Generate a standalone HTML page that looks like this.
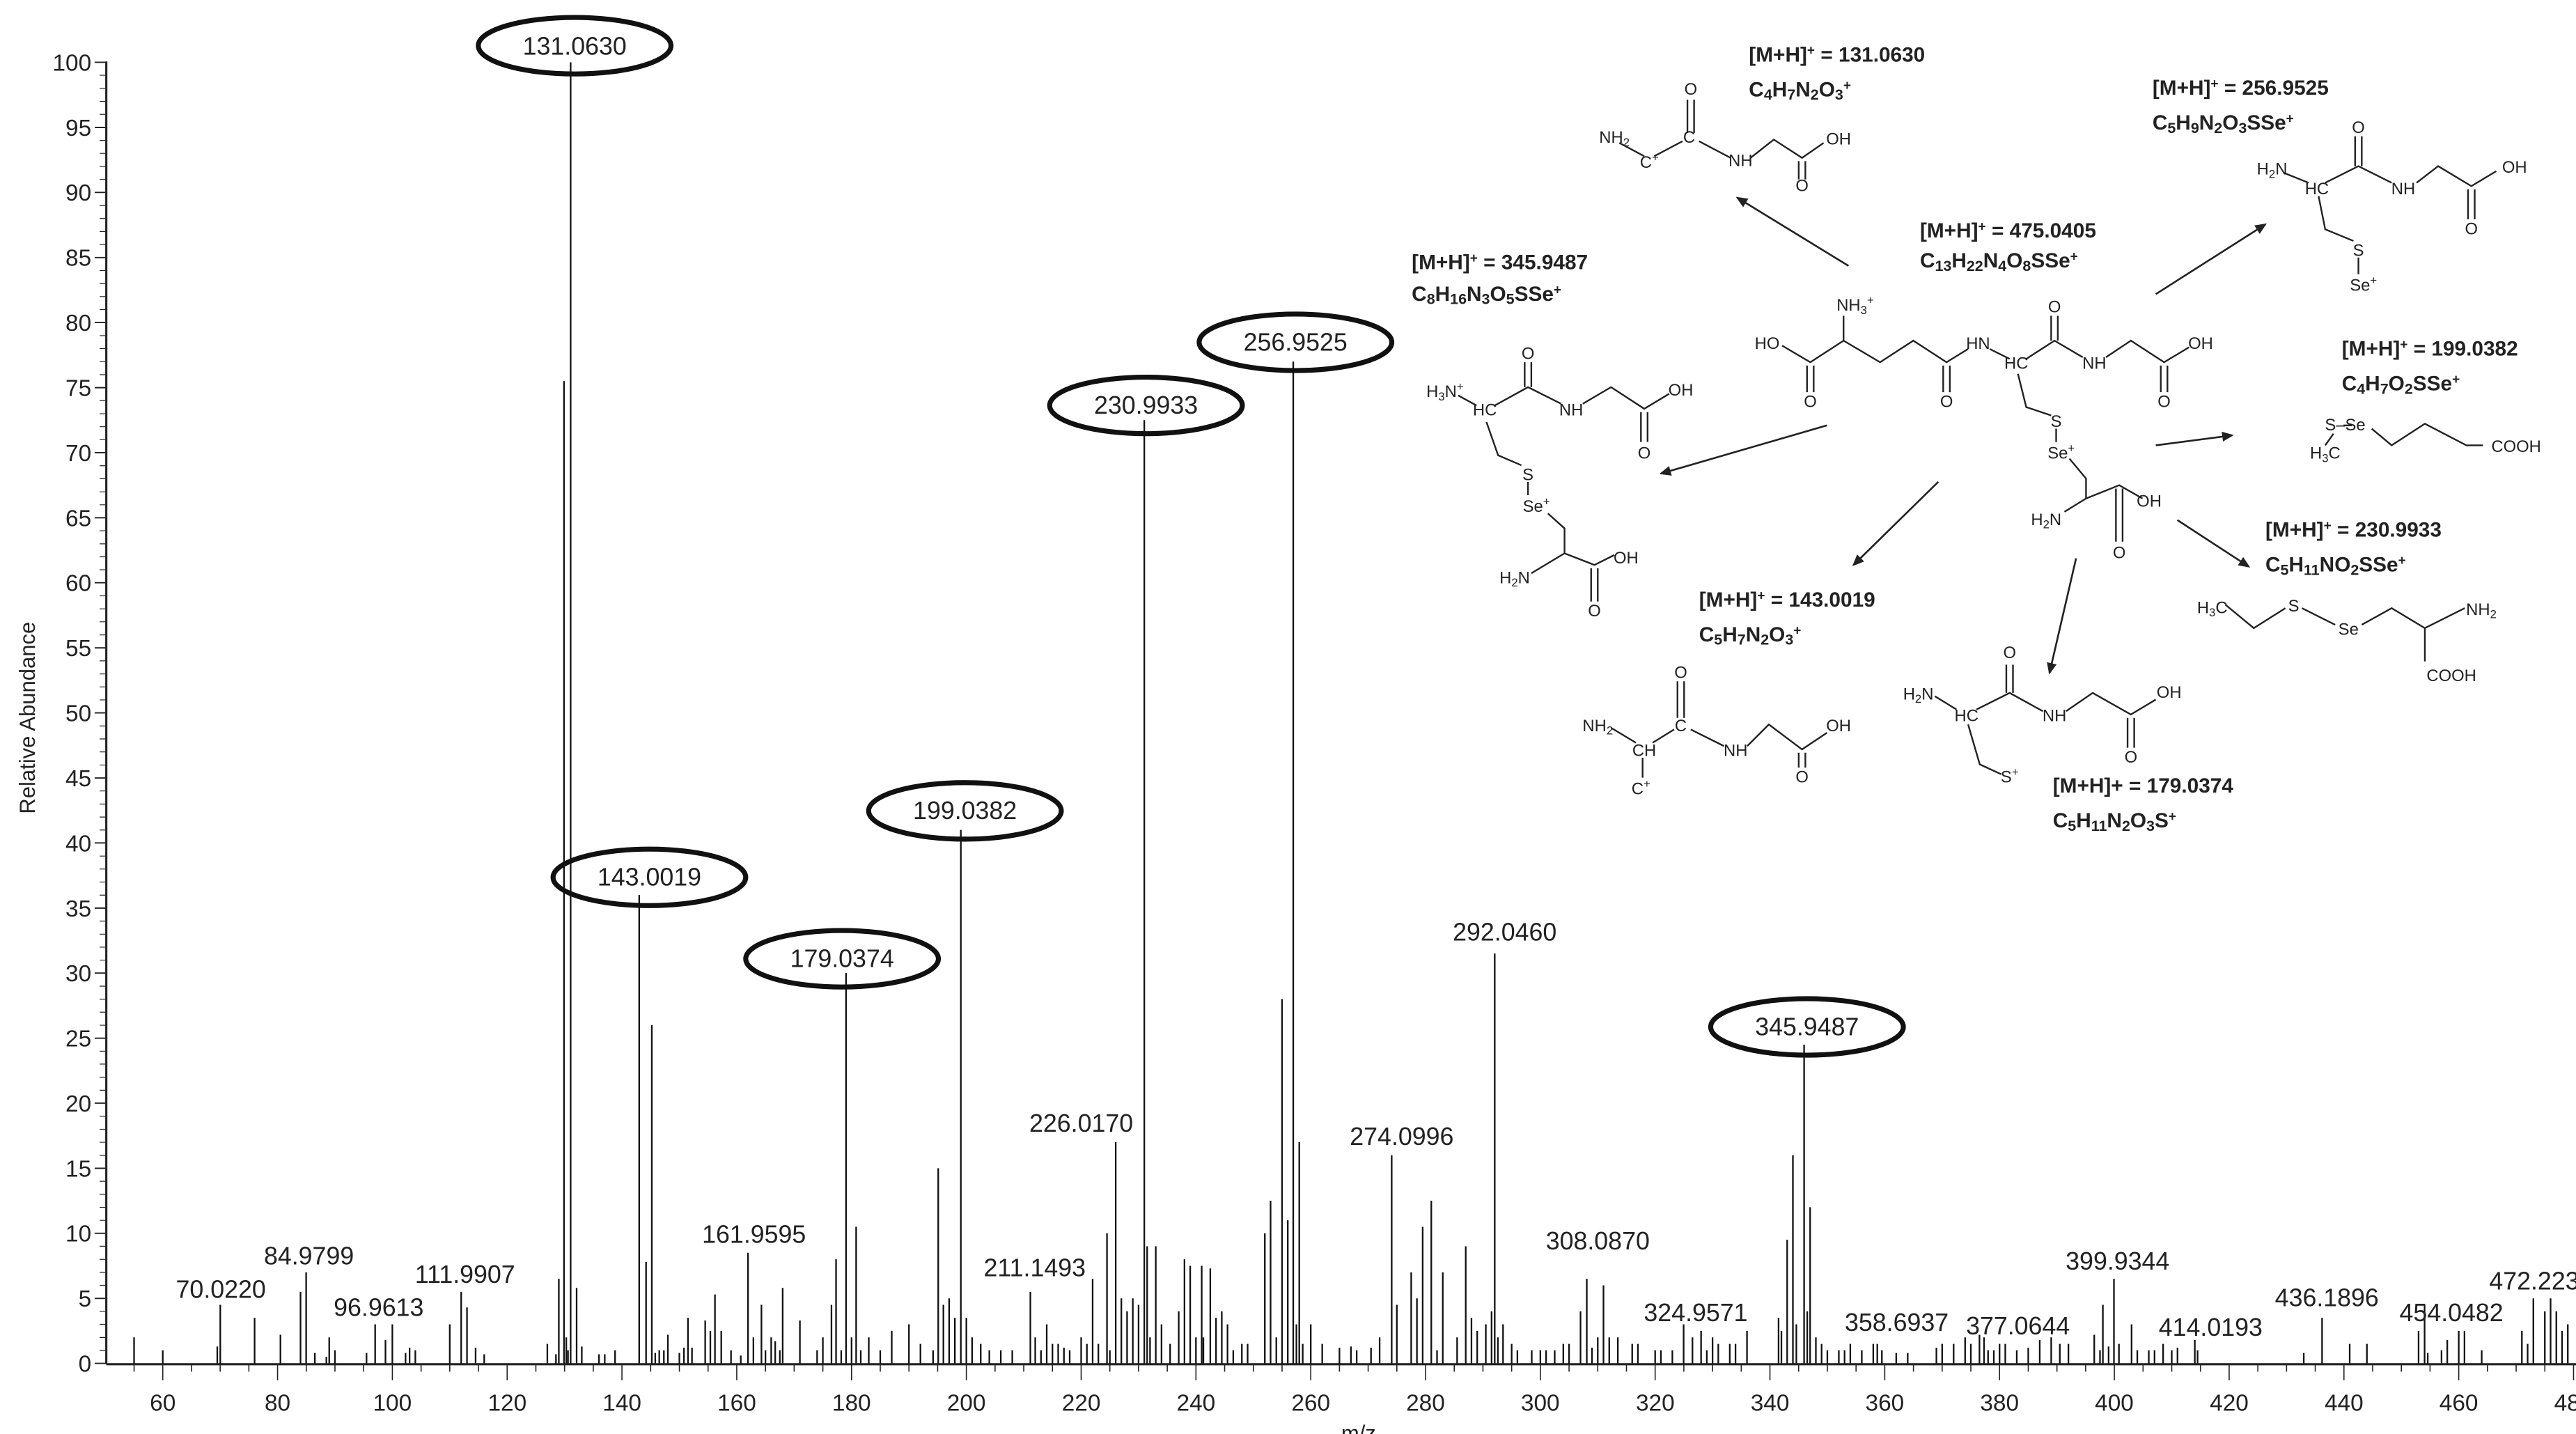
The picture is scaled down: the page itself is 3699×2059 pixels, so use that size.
<!DOCTYPE html>
<html><head><meta charset="utf-8"><style>
html,body{margin:0;padding:0;background:#fff;}
svg{display:block;}
.ax{font-family:"Liberation Sans",sans-serif;font-size:14px;fill:#222;}
.pl{font-family:"Liberation Sans",sans-serif;font-size:15px;fill:#222;}
.el{font-family:"Liberation Sans",sans-serif;font-size:15px;fill:#222;text-anchor:middle;}
.f{font-family:"Liberation Sans Narrow","Liberation Sans",sans-serif;font-size:12.5px;font-weight:bold;fill:#222;}
.a{font-family:"Liberation Sans Narrow","Liberation Sans",sans-serif;font-size:10px;fill:#222;text-anchor:middle;}
.b{stroke:#222;stroke-width:1;fill:none;}
</style></head><body>
<svg width="3699" height="2059" viewBox="0 0 1551 863" preserveAspectRatio="none" xmlns="http://www.w3.org/2000/svg">
<rect width="1551" height="863" fill="#fff"/>
<line x1="64" y1="37" x2="64" y2="821" stroke="#222" stroke-width="1.3"/>
<line x1="64" y1="821" x2="1551" y2="821" stroke="#222" stroke-width="1.3"/>
<g stroke="#222" stroke-width="0.8">
<path d="M57 37.5H64M57 76.7H64M57 115.8H64M57 155H64M57 194.1H64M57 233.3H64M57 272.4H64M57 311.6H64M57 350.7H64M57 389.9H64M57 429H64M57 468.2H64M57 507.3H64M57 546.5H64M57 585.6H64M57 624.8H64M57 663.9H64M57 703.1H64M57 742.2H64M57 781.4H64M57 820.5H64"/>
</g>
<g stroke="#222" stroke-width="0.5">
<path d="M60 45.3H64M60 53.2H64M60 61H64M60 68.8H64M60 84.5H64M60 92.3H64M60 100.2H64M60 108H64M60 123.7H64M60 131.5H64M60 139.3H64M60 147.2H64M60 162.8H64M60 170.7H64M60 178.5H64M60 186.3H64M60 202H64M60 209.8H64M60 217.6H64M60 225.5H64M60 241.1H64M60 249H64M60 256.8H64M60 264.6H64M60 280.3H64M60 288.1H64M60 296H64M60 303.8H64M60 319.4H64M60 327.3H64M60 335.1H64M60 342.9H64M60 358.6H64M60 366.4H64M60 374.2H64M60 382.1H64M60 397.7H64M60 405.6H64M60 413.4H64M60 421.2H64M60 436.9H64M60 444.7H64M60 452.5H64M60 460.4H64M60 476H64M60 483.9H64M60 491.7H64M60 499.5H64M60 515.2H64M60 523H64M60 530.8H64M60 538.7H64M60 554.3H64M60 562.2H64M60 570H64M60 577.8H64M60 593.5H64M60 601.3H64M60 609.1H64M60 617H64M60 632.6H64M60 640.4H64M60 648.3H64M60 656.1H64M60 671.8H64M60 679.6H64M60 687.4H64M60 695.3H64M60 710.9H64M60 718.7H64M60 726.6H64M60 734.4H64M60 750H64M60 757.9H64M60 765.7H64M60 773.5H64M60 789.2H64M60 797H64M60 804.9H64M60 812.7H64"/>
</g>
<g class="ax" text-anchor="end">
<text x="55" y="42.5">100</text><text x="55" y="81.7">95</text><text x="55" y="120.8">90</text><text x="55" y="160">85</text><text x="55" y="199.1">80</text><text x="55" y="238.3">75</text><text x="55" y="277.4">70</text><text x="55" y="316.6">65</text><text x="55" y="355.7">60</text><text x="55" y="394.9">55</text><text x="55" y="434">50</text><text x="55" y="473.2">45</text><text x="55" y="512.3">40</text><text x="55" y="551.5">35</text><text x="55" y="590.6">30</text><text x="55" y="629.8">25</text><text x="55" y="668.9">20</text><text x="55" y="708.1">15</text><text x="55" y="747.2">10</text><text x="55" y="786.4">5</text><text x="55" y="825.5">0</text>
</g>
<text transform="translate(21 432) rotate(-90)" text-anchor="middle" font-family="Liberation Sans,sans-serif" font-size="13" fill="#222">Relative Abundance</text>
<g transform="translate(-109.36 820.5) scale(3.456 -7.83)">
<path vector-effect="non-scaling-stroke" stroke="#222" stroke-width="1.6" fill="none" d="M55 0V-0.64M65 0V-0.64M70 0V-0.64M75 0V-0.64M85 0V-0.64M90 0V-0.64M95 0V-0.64M105 0V-0.64M110 0V-0.64M115 0V-0.64M125 0V-0.64M130 0V-0.64M135 0V-0.64M145 0V-0.64M150 0V-0.64M155 0V-0.64M165 0V-0.64M170 0V-0.64M175 0V-0.64M185 0V-0.64M190 0V-0.64M195 0V-0.64M205 0V-0.64M210 0V-0.64M215 0V-0.64M225 0V-0.64M230 0V-0.64M235 0V-0.64M245 0V-0.64M250 0V-0.64M255 0V-0.64M265 0V-0.64M270 0V-0.64M275 0V-0.64M285 0V-0.64M290 0V-0.64M295 0V-0.64M305 0V-0.64M310 0V-0.64M315 0V-0.64M325 0V-0.64M330 0V-0.64M335 0V-0.64M345 0V-0.64M350 0V-0.64M355 0V-0.64M365 0V-0.64M370 0V-0.64M375 0V-0.64M385 0V-0.64M390 0V-0.64M395 0V-0.64M405 0V-0.64M410 0V-0.64M415 0V-0.64M425 0V-0.64M430 0V-0.64M435 0V-0.64M445 0V-0.64M450 0V-0.64M455 0V-0.64M465 0V-0.64M470 0V-0.64M475 0V-0.64
M60 0V-1.3M80 0V-1.3M100 0V-1.3M120 0V-1.3M140 0V-1.3M160 0V-1.3M180 0V-1.3M200 0V-1.3M220 0V-1.3M240 0V-1.3M260 0V-1.3M280 0V-1.3M300 0V-1.3M320 0V-1.3M340 0V-1.3M360 0V-1.3M380 0V-1.3M400 0V-1.3M420 0V-1.3M440 0V-1.3M460 0V-1.3M480 0V-1.3"/>
</g>
<g class="ax" text-anchor="middle">
<text x="98" y="849">60</text><text x="167.1" y="849">80</text><text x="236.2" y="849">100</text><text x="305.4" y="849">120</text><text x="374.5" y="849">140</text><text x="443.6" y="849">160</text><text x="512.7" y="849">180</text><text x="581.8" y="849">200</text><text x="651" y="849">220</text><text x="720.1" y="849">240</text><text x="789.2" y="849">260</text><text x="858.3" y="849">280</text><text x="927.4" y="849">300</text><text x="996.6" y="849">320</text><text x="1065.7" y="849">340</text><text x="1134.8" y="849">360</text><text x="1203.9" y="849">380</text><text x="1273" y="849">400</text><text x="1342.2" y="849">420</text><text x="1411.3" y="849">440</text><text x="1480.4" y="849">460</text><text x="1549.5" y="849">480</text>
</g>
<text x="818" y="867" text-anchor="middle" font-family="Liberation Sans,sans-serif" font-size="13" fill="#222">m/z</text>
<g transform="translate(-109.36 820.5) scale(3.456 -7.83)">
<path vector-effect="non-scaling-stroke" stroke="#111" stroke-width="2.3" fill="none" d="
M55 0V2M60 0V1M69.5 0V1.3M70.02 0V4.5M76 0V3.5M80.5 0V2.2M84 0V5.5M84.98 0V7M86.5 0V0.8M88.5 0V0.5M89 0V2M90 0V1M95.5 0V0.8M97 0V3M98.8 0V1.8M100 0V3M102.3 0V0.8M103 0V1.2M104 0V1M110 0V3M111.99 0V5.5M113 0V4.3M114.5 0V1.2M116 0V0.7M127 0V1.5M128.5 0V0.7M129 0V6.5M129.9 0V75.5M130.3 0V2M130.6 0V1M131.06 0V100M132.1 0V5.8M133 0V1.3M136 0V0.7M137 0V0.7M138.8 0V1
M143 0V36M144.2 0V7.8M145.2 0V26M145.8 0V0.8M146.5 0V1M147.3 0V1M148 0V2.2M150 0V0.8M150.8 0V1.2M151.5 0V3.5M152.2 0V1.2M154.5 0V3.3M155.4 0V2.5M156.2 0V5.3M157.3 0V2.5M159 0V1M160.7 0V0.6M161.96 0V8.5M162.9 0V2M164.3 0V4.5M165 0V1M166 0V2M166.7 0V1.7M167.5 0V1M168 0V5.8M171 0V3.3M174 0V1M175 0V2M176.5 0V4.5M177.3 0V8M178.2 0V1M179.04 0V30M180 0V2M180.8 0V10.5M181.6 0V1M183 0V2M185 0V1M187 0V2.5M190 0V3M192 0V1.5M194.2 0V1M195.1 0V15M196 0V4.5M197 0V5M198 0V3.5M199.04 0V41M200 0V3.5M201 0V2M202.5 0V1.5M204 0V1M206 0V1M208 0V1
M211.15 0V5.5M212 0V2M213 0V1M214 0V3M215 0V1.5M216 0V1.5M217 0V1.2M218 0V1M220 0V2M221 0V1.5M222 0V6.5M223 0V1.5M224.5 0V10M225 0V1M226.02 0V17M227 0V5M228 0V4M229 0V5M230 0V4.5M231 0V72.5M231.5 0V9M232 0V2M233 0V9M234 0V3M235.5 0V1.5M237 0V4M238 0V8M239 0V7.5M240 0V2M241 0V7.5M241.3 0V2M242.5 0V7.3M243.5 0V3.5M244.5 0V4M245.5 0V3M246.5 0V1M248 0V1.5M249 0V1.5M252 0V10M253 0V12.5M254 0V2M255 0V28M256 0V11M256.95 0V77M257.5 0V3M258 0V17M258.6 0V1.5M260 0V3M262 0V1.5M265 0V1.2M267 0V1.3M268 0V1M270.5 0V1.2M272 0V2
M274.1 0V16M275 0V4.5M277.5 0V7M278.5 0V5M279.5 0V10.5M281 0V12.5M282 0V1M283 0V7M285.5 0V2M287 0V9M288 0V3.5M289 0V2.5M290.5 0V3M291.5 0V4M292.05 0V31.5M292.6 0V2M293.5 0V3M295 0V1.5M296 0V1M298.5 0V1M300 0V1M301 0V1M302.5 0V1M304 0V1.5M305 0V1.5M307 0V4M308.09 0V6.5M309 0V1.2M310 0V2M311 0V6M312 0V2M313.5 0V2M316 0V1.5M317 0V1.5M320 0V1M321 0V1M323 0V1M324.96 0V3M326.5 0V2M328 0V2.5M329 0V1M330 0V2M331 0V1.5M333 0V1.5M334 0V1.5M336 0V2.5M341.5 0V3.5M342 0V2.5M343 0V9.5M344 0V16M344.6 0V3M345.95 0V24.5M346.5 0V4M347 0V12M348 0V2M349 0V1.5M350 0V1M352 0V1M353 0V1M354 0V1.5M356 0V1M358 0V1.5M358.7 0V1.5M359.5 0V1M362 0V0.8M364 0V0.8M369 0V1.2M370 0V1.5M372 0V1.5M374 0V2M375 0V1.5M376.5 0V2.2M377.3 0V2M378 0V1M379 0V1M380 0V1.5M381 0V1.5M383 0V1M385 0V1.2M387 0V1.8M389 0V2M390.5 0V1.5M392 0V1.5
M396.5 0V2.2M397.5 0V1M398 0V4.5M399 0V1.3M399.93 0V6.5M400.8 0V1.5M403 0V3M404 0V1M406 0V1M407 0V1M408.5 0V1.5M410 0V1M411 0V1.2M414.02 0V1.8M414.5 0V1M433 0V0.8M436.19 0V3.5M441 0V1.5M444 0V1.5M453 0V2.5M454.05 0V4.5M454.6 0V0.8M457 0V1M458 0V1.8M460 0V2.5M461 0V2.5M464 0V1M471 0V2.5M472 0V1.5M473 0V5M475 0V4M476 0V5M477 0V4M478 0V2.5M479 0V3"/>
</g>
<g class="pl" text-anchor="middle">
<text x="133" y="781">70.0220</text>
<text x="186" y="761">84.9799</text>
<text x="228" y="792">96.9613</text>
<text x="280" y="772">111.9907</text>
<text x="454" y="748">161.9595</text>
<text x="623" y="768">211.1493</text>
<text x="651" y="681">226.0170</text>
<text x="844" y="689">274.0996</text>
<text x="906" y="566">292.0460</text>
<text x="962" y="752">308.0870</text>
<text x="1021" y="795">324.9571</text>
<text x="1142" y="801">358.6937</text>
<text x="1215" y="803">377.0644</text>
<text x="1275" y="764">399.9344</text>
<text x="1331" y="804">414.0193</text>
<text x="1401" y="786">436.1896</text>
<text x="1476" y="795">454.0482</text>
<text x="1530" y="776">472.2234</text>
</g>
<g fill="none" stroke="#111" stroke-width="3">
<ellipse cx="346" cy="27.5" rx="58" ry="17"/>
<ellipse cx="391" cy="528" rx="58" ry="17"/>
<ellipse cx="507" cy="577" rx="58" ry="17"/>
<ellipse cx="581" cy="488" rx="58" ry="17"/>
<ellipse cx="690" cy="244" rx="58" ry="17"/>
<ellipse cx="780" cy="206" rx="58" ry="17"/>
<ellipse cx="1088" cy="618" rx="58" ry="17"/>
</g>
<g class="el">
<text x="346" y="33">131.0630</text>
<text x="391" y="533">143.0019</text>
<text x="507" y="582">179.0374</text>
<text x="581" y="493">199.0382</text>
<text x="690" y="249">230.9933</text>
<text x="780" y="211">256.9525</text>
<text x="1088" y="623">345.9487</text>
</g>
<g class="f">
<text x="1053" y="37">[M+H]<tspan dy="-4" font-size="8">+</tspan><tspan dy="4"> = 131.0630</tspan></text>
<text x="1053" y="58">C<tspan font-size="9" dy="2">4</tspan><tspan dy="-2">H</tspan><tspan font-size="9" dy="2">7</tspan><tspan dy="-2">N</tspan><tspan font-size="9" dy="2">2</tspan><tspan dy="-2">O</tspan><tspan font-size="9" dy="2">3</tspan><tspan font-size="8" dy="-6">+</tspan></text>
<text x="1296" y="57">[M+H]<tspan dy="-4" font-size="8">+</tspan><tspan dy="4"> = 256.9525</tspan></text>
<text x="1296" y="78">C<tspan font-size="9" dy="2">5</tspan><tspan dy="-2">H</tspan><tspan font-size="9" dy="2">9</tspan><tspan dy="-2">N</tspan><tspan font-size="9" dy="2">2</tspan><tspan dy="-2">O</tspan><tspan font-size="9" dy="2">3</tspan><tspan dy="-2">SSe</tspan><tspan font-size="8" dy="-4">+</tspan></text>
<text x="1156" y="143">[M+H]<tspan dy="-4" font-size="8">+</tspan><tspan dy="4"> = 475.0405</tspan></text>
<text x="1156" y="161">C<tspan font-size="9" dy="2">13</tspan><tspan dy="-2">H</tspan><tspan font-size="9" dy="2">22</tspan><tspan dy="-2">N</tspan><tspan font-size="9" dy="2">4</tspan><tspan dy="-2">O</tspan><tspan font-size="9" dy="2">8</tspan><tspan dy="-2">SSe</tspan><tspan font-size="8" dy="-4">+</tspan></text>
<text x="850" y="162">[M+H]<tspan dy="-4" font-size="8">+</tspan><tspan dy="4"> = 345.9487</tspan></text>
<text x="850" y="181">C<tspan font-size="9" dy="2">8</tspan><tspan dy="-2">H</tspan><tspan font-size="9" dy="2">16</tspan><tspan dy="-2">N</tspan><tspan font-size="9" dy="2">3</tspan><tspan dy="-2">O</tspan><tspan font-size="9" dy="2">5</tspan><tspan dy="-2">SSe</tspan><tspan font-size="8" dy="-4">+</tspan></text>
<text x="1410" y="214">[M+H]<tspan dy="-4" font-size="8">+</tspan><tspan dy="4"> = 199.0382</tspan></text>
<text x="1410" y="235">C<tspan font-size="9" dy="2">4</tspan><tspan dy="-2">H</tspan><tspan font-size="9" dy="2">7</tspan><tspan dy="-2">O</tspan><tspan font-size="9" dy="2">2</tspan><tspan dy="-2">SSe</tspan><tspan font-size="8" dy="-4">+</tspan></text>
<text x="1364" y="323">[M+H]<tspan dy="-4" font-size="8">+</tspan><tspan dy="4"> = 230.9933</tspan></text>
<text x="1364" y="344">C<tspan font-size="9" dy="2">5</tspan><tspan dy="-2">H</tspan><tspan font-size="9" dy="2">11</tspan><tspan dy="-2">NO</tspan><tspan font-size="9" dy="2">2</tspan><tspan dy="-2">SSe</tspan><tspan font-size="8" dy="-4">+</tspan></text>
<text x="1023" y="365">[M+H]<tspan dy="-4" font-size="8">+</tspan><tspan dy="4"> = 143.0019</tspan></text>
<text x="1023" y="386">C<tspan font-size="9" dy="2">5</tspan><tspan dy="-2">H</tspan><tspan font-size="9" dy="2">7</tspan><tspan dy="-2">N</tspan><tspan font-size="9" dy="2">2</tspan><tspan dy="-2">O</tspan><tspan font-size="9" dy="2">3</tspan><tspan font-size="8" dy="-6">+</tspan></text>
<text x="1236" y="477">[M+H]+ = 179.0374</text>
<text x="1236" y="498">C<tspan font-size="9" dy="2">5</tspan><tspan dy="-2">H</tspan><tspan font-size="9" dy="2">11</tspan><tspan dy="-2">N</tspan><tspan font-size="9" dy="2">2</tspan><tspan dy="-2">O</tspan><tspan font-size="9" dy="2">3</tspan><tspan dy="-2">S</tspan><tspan font-size="8" dy="-4">+</tspan></text>
</g>
<defs><marker id="ar" markerWidth="8" markerHeight="8" refX="6" refY="3" orient="auto" markerUnits="userSpaceOnUse"><path d="M0,0 L7,3 L0,6 z" fill="#222"/></marker></defs>
<g stroke="#222" stroke-width="1.1" marker-end="url(#ar)">
<line x1="1113" y1="160" x2="1046" y2="119"/>
<line x1="1298" y1="177" x2="1364" y2="135"/>
<line x1="1100" y1="256" x2="1000" y2="285"/>
<line x1="1167" y1="290" x2="1116" y2="340"/>
<line x1="1298" y1="268" x2="1344" y2="262"/>
<line x1="1311" y1="313" x2="1354" y2="341"/>
<line x1="1250" y1="336" x2="1234" y2="405"/>
</g>
<g class="b">
<path d="M975 86L990 94M996 94L1013 85M1023 85L1042 95M1054 95L1068 84L1085 95L1098 86M1016 80V60M1020 80V60M1083 97V108M1087 97V108"/>
<path d="M1375 104L1390 110M1400 110L1420 100L1440 110M1455 110L1468 100L1488 112L1503 103M1418 100V82M1422 100V82M1486 114V132M1490 114V132M1396 118L1400 138L1417 145M1420 155V165"/>
<path d="M1073 208L1090 218L1110 205L1132 218L1152 205L1172 218L1185 210M1088 220V236M1092 220V236M1110 205V190M1170 220V236M1174 220V236M1198 210L1210 216M1220 216L1237 205L1254 215M1235 205V190M1239 205V190M1268 215L1283 205L1303 218L1318 209M1301 220V236M1305 220V236M1215 225L1220 245L1235 250M1238 258V266M1246 276L1256 288L1256 300L1243 308M1256 300L1276 292L1290 300M1274 294V326M1278 294V326"/>
<path d="M878 238L889 244M900 244L920 233L940 243M953 243L970 233L990 246L1005 237M918 233V218M922 233V218M988 248V266M992 248V266M895 254L902 274L916 280M920 290V298M932 309L942 318L942 333L922 345M942 333L960 340L972 334M958 342V362M962 342V362"/>
<path d="M1400 268L1405 261M1411 256H1416M1428 258L1440 268L1460 255L1485 268L1495 268"/>
<path d="M1340 364L1357 378L1376 366M1386 366L1406 376M1422 376L1440 366L1460 378L1484 366M1460 378V398"/>
<path d="M970 438L985 447M995 447L1008 439M1010 432V410M1014 432V410M1018 439L1038 449M1052 449L1065 436L1085 451L1100 441M1083 453V462M1087 453V462M989 456V468"/>
<path d="M1165 419L1178 427M1190 427L1210 417L1230 428M1244 428L1260 417L1283 430L1298 421M1208 417V400M1212 417V400M1281 432V450M1285 432V450M1185 436L1192 460L1205 466"/>
</g>
<g class="a">
<text x="1018" y="57">O</text><text x="972" y="86">NH<tspan font-size="7" dy="2">2</tspan></text><text x="993" y="101">C<tspan font-size="7" dy="-4">+</tspan></text><text x="1017" y="86">C</text><text x="1048" y="100">NH</text><text x="1107" y="87">OH</text><text x="1085" y="115">O</text>
<text x="1420" y="80">O</text><text x="1368" y="105">H<tspan font-size="7" dy="2">2</tspan><tspan dy="-2">N</tspan></text><text x="1395" y="117">HC</text><text x="1447" y="117">NH</text><text x="1514" y="104">OH</text><text x="1488" y="141">O</text><text x="1420" y="154">S</text><text x="1423" y="175">Se<tspan font-size="7" dy="-4">+</tspan></text>
<text x="1117" y="187">NH<tspan font-size="7" dy="2">3</tspan><tspan font-size="7" dy="-6">+</tspan></text><text x="1064" y="210">HO</text><text x="1090" y="245">O</text><text x="1172" y="245">O</text><text x="1191" y="210">HN</text><text x="1214" y="222">HC</text><text x="1237" y="188">O</text><text x="1261" y="222">NH</text><text x="1325" y="210">OH</text><text x="1303" y="245">O</text><text x="1238" y="257">S</text><text x="1241" y="276">Se<tspan font-size="7" dy="-4">+</tspan></text><text x="1232" y="316">H<tspan font-size="7" dy="2">2</tspan><tspan dy="-2">N</tspan></text><text x="1294" y="305">OH</text><text x="1276" y="336">O</text>
<text x="920" y="216">O</text><text x="870" y="239">H<tspan font-size="7" dy="2">3</tspan><tspan dy="-2">N</tspan><tspan font-size="7" dy="-4">+</tspan></text><text x="894" y="250">HC</text><text x="946" y="250">NH</text><text x="1012" y="238">OH</text><text x="990" y="276">O</text><text x="920" y="289">S</text><text x="925" y="308">Se<tspan font-size="7" dy="-4">+</tspan></text><text x="912" y="351">H<tspan font-size="7" dy="2">2</tspan><tspan dy="-2">N</tspan></text><text x="979" y="339">OH</text><text x="960" y="371">O</text>
<text x="1412" y="259">S–Se</text><text x="1400" y="276">H<tspan font-size="7" dy="2">3</tspan><tspan dy="-2">C</tspan></text><text x="1515" y="272">COOH</text>
<text x="1332" y="369">H<tspan font-size="7" dy="2">3</tspan><tspan dy="-2">C</tspan></text><text x="1381" y="368">S</text><text x="1414" y="382">Se</text><text x="1494" y="370">NH<tspan font-size="7" dy="2">2</tspan></text><text x="1476" y="410">COOH</text>
<text x="1012" y="408">O</text><text x="962" y="440">NH<tspan font-size="7" dy="2">2</tspan></text><text x="1012" y="440">C</text><text x="990" y="455">CH</text><text x="1045" y="455">NH</text><text x="1107" y="440">OH</text><text x="1085" y="471">O</text><text x="988" y="478">C<tspan font-size="7" dy="-4">+</tspan></text>
<text x="1210" y="396">O</text><text x="1155" y="421">H<tspan font-size="7" dy="2">2</tspan><tspan dy="-2">N</tspan></text><text x="1184" y="434">HC</text><text x="1237" y="434">NH</text><text x="1306" y="420">OH</text><text x="1283" y="459">O</text><text x="1210" y="471">S<tspan font-size="7" dy="-4">+</tspan></text>
</g>
</svg>
</body></html>
